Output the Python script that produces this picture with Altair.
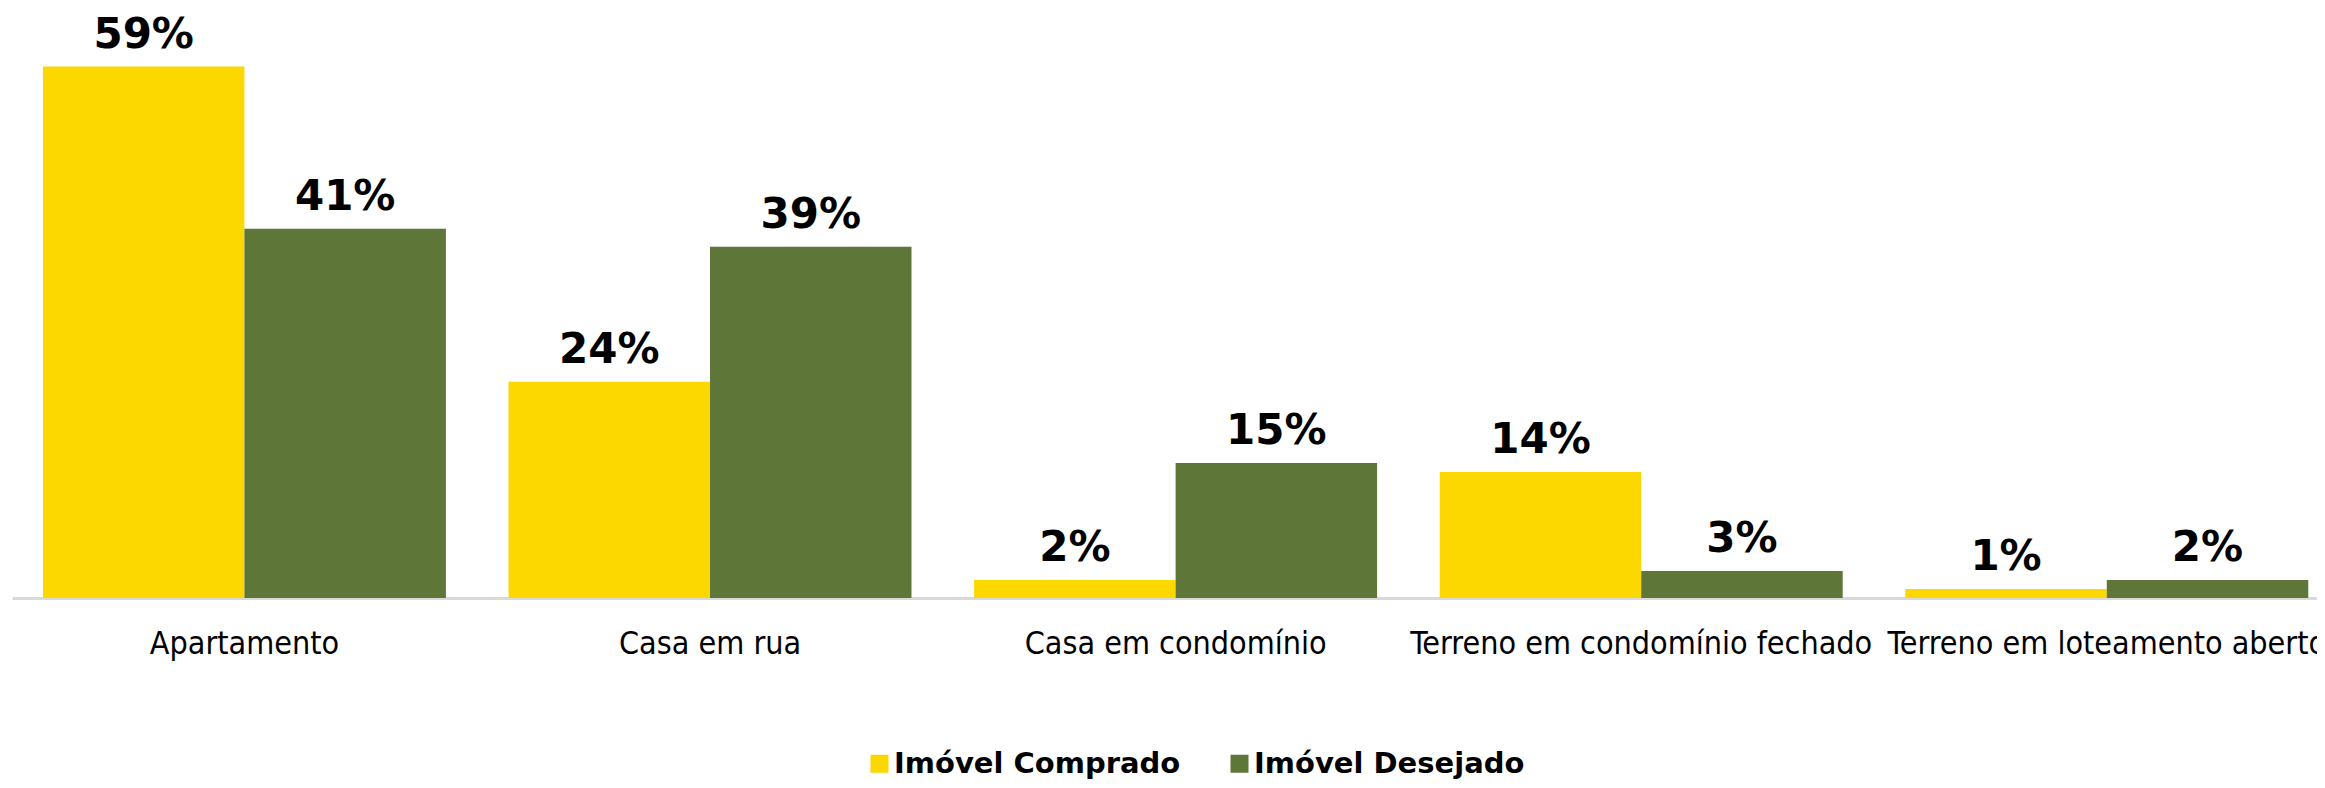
import altair as alt
import pandas as pd

categories = ["Apartamento", "Casa em rua", "Casa em condomínio",
              "Terreno em condomínio fechado", "Terreno em loteamento aberto"]
series = ["Imóvel Comprado", "Imóvel Desejado"]
comprado = [59, 24, 2, 14, 1]
desejado = [41, 39, 15, 3, 2]
colors = ["#FDD700", "#5E7638"]

rows = []
for c, a, b in zip(categories, comprado, desejado):
    rows.append({"cat": c, "serie": series[0], "v": a, "label": f"{a}%"})
    rows.append({"cat": c, "serie": series[1], "v": b, "label": f"{b}%"})
df = pd.DataFrame(rows)

x = alt.X("cat:N", sort=categories, title=None,
          scale=alt.Scale(paddingInner=0.1345, paddingOuter=0.0426, align=0.78),
          axis=alt.Axis(labelAngle=0, labelFont="DejaVu Sans Condensed, DejaVu Sans",
                        labelFontSize=32, labelColor="black", ticks=False, tickSize=0,
                        labelPadding=30, domainColor="#d9d9d9", domainWidth=3,
                        grid=False, labelLimit=0))
xo = alt.XOffset("serie:N", sort=series, scale=alt.Scale(paddingInner=0, paddingOuter=0))
y = alt.Y("v:Q", scale=alt.Scale(domain=[0, 65.5], nice=False, zero=True), axis=None)
color = alt.Color("serie:N", sort=series,
                  scale=alt.Scale(domain=series, range=colors),
                  legend=alt.Legend(title=None, orient="none", legendX=853, legendY=741,
                                    direction="horizontal", symbolType="square",
                                    symbolSize=324, symbolStrokeWidth=0,
                                    labelFont="DejaVu Sans", labelFontWeight="bold",
                                    labelFontSize=29, labelColor="black", labelOffset=0,
                                    columnPadding=44, padding=0, labelLimit=0))

base = alt.Chart(df)
bars = base.mark_bar().encode(x=x, xOffset=xo, y=y, color=color)
text = base.mark_text(baseline="alphabetic", dy=-19, font="DejaVu Sans",
                      fontWeight="bold", fontSize=42, color="black").encode(
    x=x, xOffset=xo, y=y, text="label:N")

chart = alt.layer(bars, text).properties(
    width=2305, height=590,
    padding={"left": 4, "top": 0, "right": 0, "bottom": 182},
    autosize=alt.AutoSizeParams(type="none"),
).configure_view(stroke=None)

chart.save("out.html", embed_options={"renderer": "svg", "actions": False})
